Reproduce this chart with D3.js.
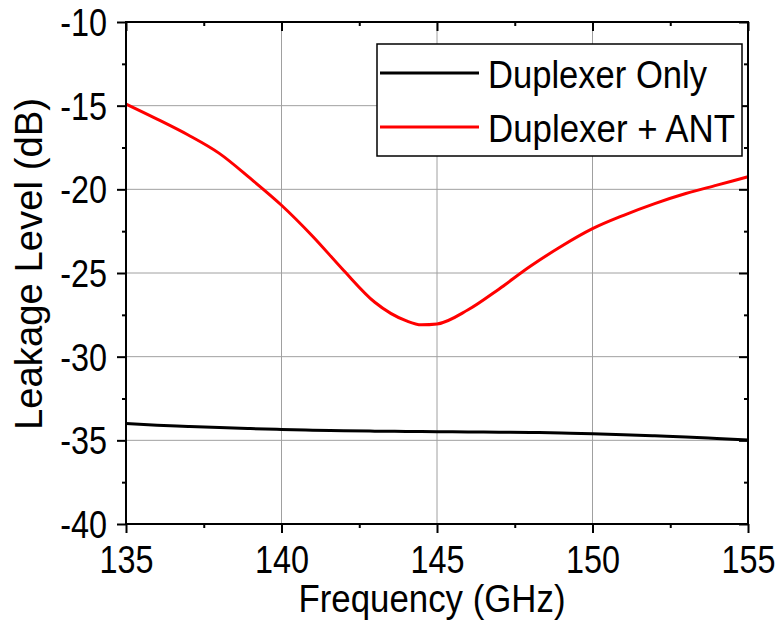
<!DOCTYPE html>
<html><head><meta charset="utf-8">
<script src="https://cdn.jsdelivr.net/npm/d3@7"></script>
<style>
html,body{margin:0;padding:0;background:#fff;}
svg text{font-family:"Liberation Sans",Arial,sans-serif;fill:#000;}
</style></head>
<body><svg id="c" width="782" height="627"></svg>
<script>
// ---- data ----
const freqRed = [135,136,137,138,139,140,141,142,143,144,144.5,145,146,147,148,149,150,151,152,153,154,155];
const leakRed = [-14.9,-15.8,-16.75,-17.85,-19.35,-20.95,-22.8,-24.85,-26.75,-27.85,-28.1,-28.05,-27.2,-25.95,-24.6,-23.4,-22.35,-21.55,-20.85,-20.25,-19.75,-19.25];
const freqBlack = [135,136,137,138,139,140,141,142,143,144,145,146,147,148,149,150,151,152,153,154,155];
const leakBlack = [-34.0,-34.1,-34.17,-34.24,-34.3,-34.35,-34.39,-34.42,-34.45,-34.47,-34.48,-34.5,-34.51,-34.53,-34.56,-34.6,-34.66,-34.73,-34.8,-34.89,-34.98];
const xTicks = [135,140,145,150,155];
const yTicks = [-10,-15,-20,-25,-30,-35,-40];
const xMinor = [137.5,142.5,147.5,152.5];
const yMinor = [-12.5,-17.5,-22.5,-27.5,-32.5,-37.5];
const seriesNames = ["Duplexer Only","Duplexer + ANT"];
const seriesColors = ["#000000","#ff0000"];
const xTitle = "Frequency (GHz)";
const yTitle = "Leakage Level (dB)";

const L=126, R=748, T=22, B=524;
const svg = d3.select("#c");
const x = d3.scaleLinear().domain([135,155]).range([L,R]);
const y = d3.scaleLinear().domain([-40,-10]).range([B,T]);
const fmt = d => String(d);

// grid
const grid = svg.append("g").attr("stroke","#a0a0a0").attr("stroke-width",1);
xTicks.slice(1,-1).forEach(v=>grid.append("line").attr("x1",x(v)).attr("x2",x(v)).attr("y1",T).attr("y2",B));
yTicks.slice(1,-1).forEach(v=>grid.append("line").attr("x1",L).attr("x2",R).attr("y1",y(v)).attr("y2",y(v)));

// curves
const line = d3.line().x(d=>x(d[0])).y(d=>y(d[1])).curve(d3.curveMonotoneX);
svg.append("path").datum(freqBlack.map((f,i)=>[f,leakBlack[i]]))
  .attr("d",line).attr("fill","none").attr("stroke",seriesColors[0]).attr("stroke-width",3);
svg.append("path").datum(freqRed.map((f,i)=>[f,leakRed[i]]))
  .attr("d",line).attr("fill","none").attr("stroke",seriesColors[1]).attr("stroke-width",3);

// axes
function styleAxis(g){g.select(".domain").remove();g.selectAll("line").attr("stroke","#000").attr("stroke-width",2);}
const gb = svg.append("g").attr("transform",`translate(0,${B})`)
  .call(d3.axisBottom(x).tickValues(xMinor).tickSize(4).tickFormat(""));
const gb2 = svg.append("g").attr("transform",`translate(0,${B})`)
  .call(d3.axisBottom(x).tickValues(xTicks).tickSize(9).tickFormat(fmt));
[gb,gb2].forEach(styleAxis);
gb2.selectAll("text").attr("y",49).attr("dy",0).style("font-size","39px");
const gl = svg.append("g").attr("transform",`translate(${L},0)`)
  .call(d3.axisLeft(y).tickValues(yMinor).tickSize(4).tickFormat(""));
const gl2 = svg.append("g").attr("transform",`translate(${L},0)`)
  .call(d3.axisLeft(y).tickValues(yTicks).tickSize(9).tickFormat(fmt));
[gl,gl2].forEach(styleAxis);
gl2.selectAll("text").attr("x",-19).attr("dy","0.35em").style("font-size","39px");
const gt = svg.append("g").attr("transform",`translate(0,${T})`)
  .call(d3.axisTop(x).tickValues(xMinor).tickSize(-4).tickFormat(""));
const gt2 = svg.append("g").attr("transform",`translate(0,${T})`)
  .call(d3.axisTop(x).tickValues(xTicks).tickSize(-9).tickFormat(""));
[gt,gt2].forEach(styleAxis);
const gr = svg.append("g").attr("transform",`translate(${R},0)`)
  .call(d3.axisRight(y).tickValues(yMinor).tickSize(-4).tickFormat(""));
const gr2 = svg.append("g").attr("transform",`translate(${R},0)`)
  .call(d3.axisRight(y).tickValues(yTicks).tickSize(-9).tickFormat(""));
[gr,gr2].forEach(styleAxis);
svg.append("rect").attr("x",L).attr("y",T).attr("width",R-L).attr("height",B-T)
  .attr("fill","none").attr("stroke","#000").attr("stroke-width",2);

// compress tick labels (narrow face)
svg.selectAll(".tick text").each(function(){
  const w=this.getComputedTextLength();
  if(w>0) d3.select(this).attr("textLength",w*0.83).attr("lengthAdjust","spacingAndGlyphs");
});

// legend
const lg = svg.append("g");
lg.append("rect").attr("x",377).attr("y",44).attr("width",365).attr("height",112)
  .attr("fill","#fff").attr("stroke","#000").attr("stroke-width",1.5);
const legY=[73,127], legBase=[88,142], legW=[219,247];
seriesNames.forEach((n,i)=>{
  lg.append("line").attr("x1",380).attr("x2",479).attr("y1",legY[i]).attr("y2",legY[i])
    .attr("stroke",seriesColors[i]).attr("stroke-width",3);
  lg.append("text").attr("x",488).attr("y",legBase[i]).style("font-size","39px")
    .attr("textLength",legW[i]).attr("lengthAdjust","spacingAndGlyphs").text(n);
});

// titles
svg.append("text").attr("x",432).attr("y",612).attr("text-anchor","middle").style("font-size","38px")
  .attr("textLength",267).attr("lengthAdjust","spacingAndGlyphs").text(xTitle);
svg.append("text").attr("transform","translate(42,264) rotate(-90)").attr("text-anchor","middle").style("font-size","38px")
  .attr("textLength",332).attr("lengthAdjust","spacingAndGlyphs").text(yTitle);
</script></body></html>
